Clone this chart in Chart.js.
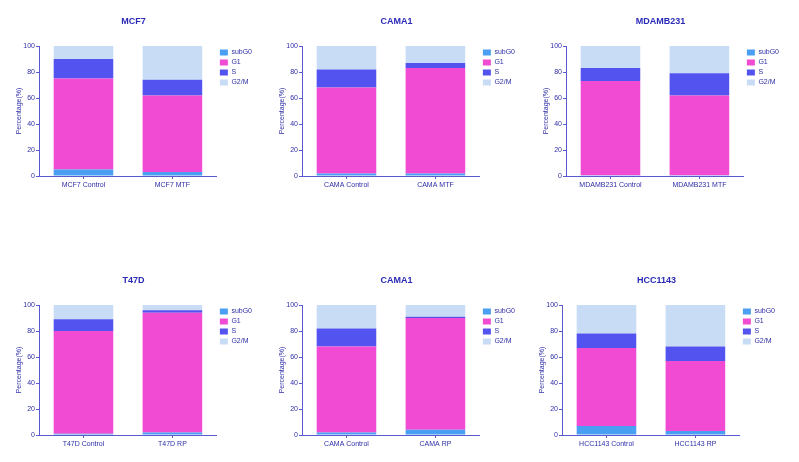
<!DOCTYPE html>
<html>
<head>
<meta charset="utf-8">
<script src="https://cdn.jsdelivr.net/npm/chart.js@4"></script>
<style>
  body { margin: 0; background: #fff; }
  #wrap { position: relative; width: 799px; height: 462px; overflow: hidden; }
  #wrap canvas { position: absolute; }
</style>
</head>
<body>
<div id="wrap"></div>
<script>
// chart data, one entry per panel
const titles = ["MCF7", "CAMA1", "MDAMB231", "T47D", "CAMA1", "HCC1143"];
const groups = [
  ["MCF7 Control", "MCF7 MTF"],
  ["CAMA Control", "CAMA MTF"],
  ["MDAMB231 Control", "MDAMB231 MTF"],
  ["T47D Control", "T47D RP"],
  ["CAMA Control", "CAMA RP"],
  ["HCC1143 Control", "HCC1143 RP"],
];
const phases = ["subG0", "G1", "S", "G2/M"];
const subG0 = [[5, 3], [2, 2], [0.5, 0.5], [1, 2], [2, 4], [7, 3]];
const g1 = [[70, 59], [66, 81], [72.5, 61.5], [79, 92], [66, 86], [60, 54]];
const sPhase = [[15, 12], [14, 4], [10, 17], [9, 2], [14, 1], [11, 11]];
const g2m = [[10, 26], [18, 13], [17, 21], [11, 4], [18, 9], [22, 32]];
const yTicks = [0, 20, 40, 60, 80, 100];

const phaseColors = ["#4b9ff2", "#f24bd3", "#5353f0", "#c9dcf5"];
const textColor = "#2e2ea6";
const axisColor = "#5a5ad0";
const font = "'Liberation Sans', Arial, sans-serif";

const lefts = [5, 268, 532, 5, 268, 528];
const tops = [0, 0, 0, 259, 259, 259];

const wrap = document.getElementById("wrap");

titles.forEach(function (title, i) {
  const canvas = document.createElement("canvas");
  canvas.width = 265;
  canvas.height = 200;
  canvas.style.left = lefts[i] + "px";
  canvas.style.top = tops[i] + "px";
  wrap.appendChild(canvas);

  const series = [subG0[i], g1[i], sPhase[i], g2m[i]];

  new Chart(canvas.getContext("2d"), {
    type: "bar",
    data: {
      labels: groups[i],
      datasets: phases.map(function (p, k) {
        return {
          label: p,
          data: series[k],
          backgroundColor: phaseColors[k],
          borderWidth: 0,
          categoryPercentage: 1,
          barPercentage: 0.67,
        };
      }),
    },
    options: {
      responsive: false,
      animation: false,
      devicePixelRatio: 1,
      layout: { padding: { left: 0, right: 8, top: 0, bottom: 0 } },
      scales: {
        x: {
          stacked: true,
          grid: { display: true, drawOnChartArea: false, offset: false, tickLength: 3, color: axisColor },
          border: { display: true, color: axisColor, width: 1 },
          ticks: { color: textColor, font: { family: font, size: 7 }, padding: 2, maxRotation: 0 },
          afterFit: function (scale) { scale.height = 24; },
        },
        y: {
          stacked: true,
          min: 0,
          max: 100,
          afterBuildTicks: function (scale) {
            scale.ticks = yTicks.map(function (v) { return { value: v }; });
          },
          grid: { display: true, drawOnChartArea: false, tickLength: 3, color: axisColor },
          border: { display: true, color: axisColor, width: 1 },
          ticks: { color: textColor, font: { family: font, size: 7 }, padding: 1 },
          title: {
            display: true,
            text: "Percentage(%)",
            color: textColor,
            font: { family: font, size: 7 },
            padding: { top: 10, bottom: 0 },
          },
          afterFit: function (scale) { scale.width = 34; },
        },
      },
      plugins: {
        title: {
          display: true,
          text: title,
          color: "#2a2ab8",
          font: { family: font, size: 9, weight: "bold" },
          padding: { top: 16, bottom: 19.2 },
        },
        legend: {
          position: "right",
          align: "start",
          fullSize: false,
          labels: {
            boxWidth: 8,
            boxHeight: 6,
            padding: 3,
            color: textColor,
            font: { family: font, size: 7 },
          },
        },
        tooltip: { enabled: false },
      },
    },
  });
});
</script>
</body>
</html>
